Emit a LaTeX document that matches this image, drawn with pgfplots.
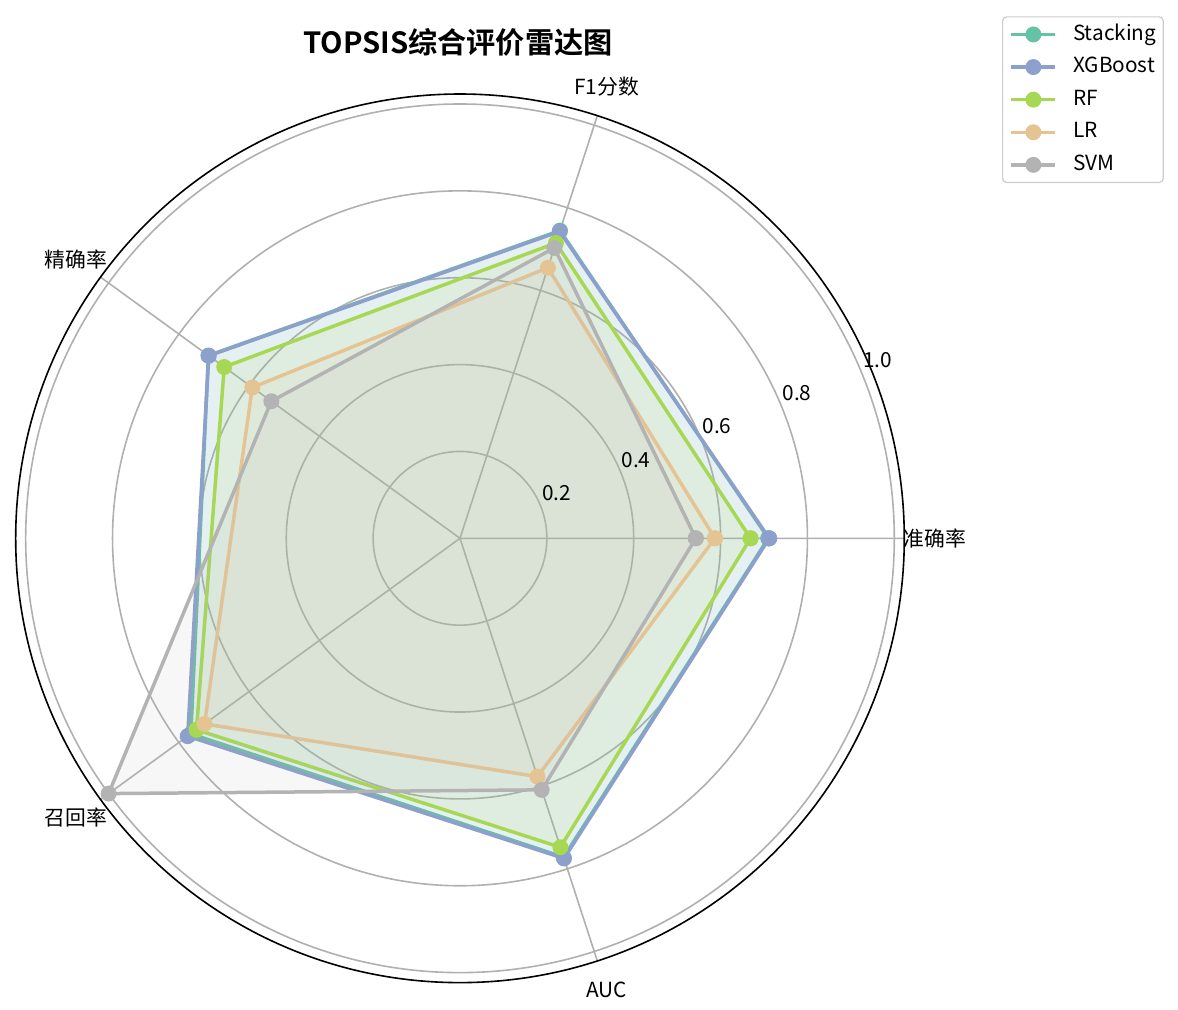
\documentclass[border=0pt]{standalone}
\usepackage{fontspec}
\setmainfont{Noto Sans CJK SC}[BoldFont={Noto Sans CJK SC Bold}]
\usepackage{pgfplots}
\usepgfplotslibrary{polar}
\pgfplotsset{compat=1.18}
\definecolor{cSt}{HTML}{66C2A5}
\definecolor{cXG}{HTML}{8DA0CB}
\definecolor{cRF}{HTML}{A6D854}
\definecolor{cLR}{HTML}{E5C494}
\definecolor{cSV}{HTML}{B3B3B3}
\definecolor{cGrid}{HTML}{B0B0B0}
\definecolor{cLeg}{HTML}{CCCCCC}
\newcommand{\lf}{\fontsize{10.4}{12}\selectfont}
\begin{document}
\begin{tikzpicture}
\useasboundingbox (-230pt,-235.35pt) rectangle (359pt,269.15pt);
\begin{polaraxis}[
  at={(0pt,0pt)}, anchor=center,
  scale only axis, width=444.3pt, height=444.3pt,
  xmin=0, xmax=360, ymin=0, ymax=1.023,
  clip=false,
  xtick={0,72,144,216,288}, xticklabels={},
  ytick={0.2,0.4,0.6,0.8,1.0}, yticklabels={},
  grid=major,
  major grid style={draw=cGrid, line width=0.8pt},
  x axis line style={black, line width=0.8pt},
  y axis line style={draw=none},
  major tick length=0pt,
  legend cell align=left,
  legend image code/.code={\draw[mark repeat=2,mark phase=2,#1] plot coordinates {(0pt,0pt) (11pt,0pt) (22pt,0pt)};},
  legend style={at={(axis description cs:1.110,1.0875)}, anchor=north west,
    draw=cLeg, rounded corners=2pt, line width=0.6pt, font=\lf,
    inner xsep=3.5pt, inner ysep=3.4pt, row sep=5.5pt, column sep=0pt,
    nodes={inner sep=0pt, text height=8.2pt, text depth=2.6pt},
    /tikz/every odd column/.append style={column sep=8pt}},
  every axis plot/.append style={line width=1.75pt, mark=*, mark size=3.1pt},
]
% Stacking
\addplot[cSt, mark options={fill=cSt, draw=cSt}] coordinates {(0,0.710) (72,0.745) (144,0.716) (216,0.766) (288,0.772) (360,0.710)};
\addlegendentry{Stacking}
\addplot[draw=none, fill=cSt, fill opacity=0.1, mark=none, forget plot] coordinates {(0,0.710) (72,0.745) (144,0.716) (216,0.766) (288,0.772) (360,0.710)} -- cycle;
% XGBoost
\addplot[cXG, mark options={fill=cXG, draw=cXG}] coordinates {(0,0.712) (72,0.743) (144,0.715) (216,0.775) (288,0.775) (360,0.712)};
\addlegendentry{XGBoost}
\addplot[draw=none, fill=cXG, fill opacity=0.1, mark=none, forget plot] coordinates {(0,0.712) (72,0.743) (144,0.715) (216,0.775) (288,0.775) (360,0.712)} -- cycle;
% RF
\addplot[cRF, mark options={fill=cRF, draw=cRF}] coordinates {(0,0.669) (72,0.715) (144,0.671) (216,0.750) (288,0.748) (360,0.669)};
\addlegendentry{RF}
\addplot[draw=none, fill=cRF, fill opacity=0.1, mark=none, forget plot] coordinates {(0,0.669) (72,0.715) (144,0.671) (216,0.750) (288,0.748) (360,0.669)} -- cycle;
% LR
\addplot[cLR, mark options={fill=cLR, draw=cLR}] coordinates {(0,0.587) (72,0.655) (144,0.591) (216,0.727) (288,0.577) (360,0.587)};
\addlegendentry{LR}
\addplot[draw=none, fill=cLR, fill opacity=0.1, mark=none, forget plot] coordinates {(0,0.587) (72,0.655) (144,0.591) (216,0.727) (288,0.577) (360,0.587)} -- cycle;
% SVM
\addplot[cSV, mark options={fill=cSV, draw=cSV}] coordinates {(0,0.543) (72,0.703) (144,0.537) (216,1.000) (288,0.609) (360,0.543)};
\addlegendentry{SVM}
\addplot[draw=none, fill=cSV, fill opacity=0.1, mark=none, forget plot] coordinates {(0,0.543) (72,0.703) (144,0.537) (216,1.000) (288,0.609) (360,0.543)} -- cycle;
% radial tick labels
\node[font=\lf] at (axis cs:24.95,0.2455) {0.2};
\node[font=\lf] at (axis cs:23.98,0.4435) {0.4};
\node[font=\lf] at (axis cs:23.6,0.646) {0.6};
\node[font=\lf] at (axis cs:23.3,0.845) {0.8};
\node[font=\lf] at (axis cs:23.1,1.046) {1.0};
% category labels
\node[font=\lf] at (axis cs:0,1.094) {准确率};
\node[font=\lf] at (axis cs:72,1.093) {F1分数};
\node[font=\lf] at (axis cs:144,1.093) {精确率};
\node[font=\lf] at (axis cs:216,1.093) {召回率};
\node[font=\lf] at (axis cs:288,1.093) {AUC};
% title
\node[font=\fontsize{14.6}{17}\selectfont\bfseries] at (axis description cs:0.4977,1.058) {TOPSIS综合评价雷达图};
\end{polaraxis}
\end{tikzpicture}
\end{document}
